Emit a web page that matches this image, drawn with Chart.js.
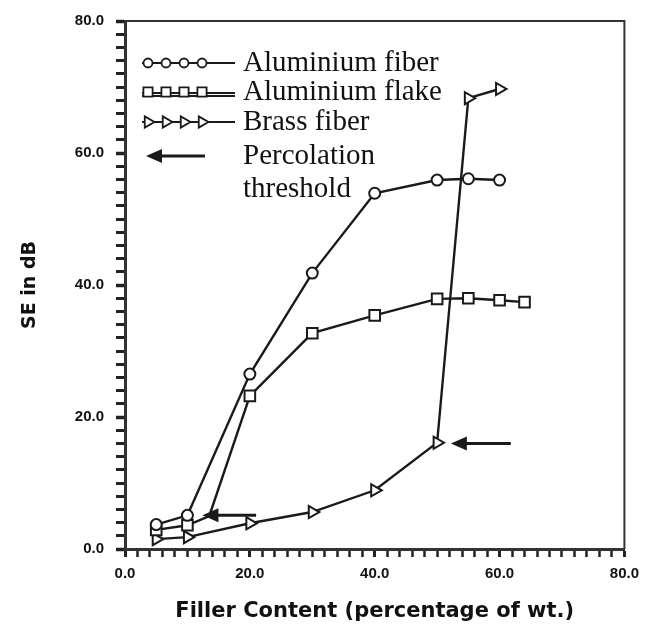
<!DOCTYPE html>
<html>
<head>
<meta charset="utf-8">
<script src="https://cdn.jsdelivr.net/npm/chart.js@4.4.1/dist/chart.umd.min.js"></script>
<style>
  html, body { margin: 0; padding: 0; background: #fff; }
  #wrap { width: 647px; height: 639px; }
</style>
</head>
<body>
<div id="wrap"><canvas id="grafico" width="647" height="639"></canvas></div>
<script>
// valores
var xAlFiber = [5, 10, 20, 30, 40, 50, 55, 60];
var seAlFiber = [3.7, 5.1, 26.5, 41.8, 53.9, 55.9, 56.1, 55.9];

var xAlFlake = [5, 10, 13.5, 20, 30, 40, 50, 55, 60, 64];
var seAlFlake = [2.9, 3.6, 5.0, 23.2, 32.7, 35.4, 37.9, 38.0, 37.7, 37.4];

var xBrass = [5, 10, 20, 30, 40, 50, 55, 60];
var seBrass = [1.5, 1.8, 3.9, 5.6, 8.9, 16.1, 68.3, 69.7];

// setas de "percolation threshold"
var arrowTipX = [12.4, 52.2];
var arrowTailX = [21, 61.8];
var arrowY = [5.1, 16.0];

var tickLabelsX = ["0.0", "20.0", "40.0", "60.0", "80.0"];
var tickLabelsY = ["0.0", "20.0", "40.0", "60.0", "80.0"];

var nomes = ["Aluminium fiber", "Aluminium flake", "Brass fiber"];
var nomeSeta = ["Percolation", "threshold"];

function pontos(xs, ys) {
    return xs.map(function (x, i) { return { x: x, y: ys[i] }; });
}

function seta(ctx, xTip, xTail, y) {
    ctx.save();
    ctx.fillStyle = "#1a1a1a";
    ctx.strokeStyle = "#1a1a1a";
    ctx.lineWidth = 3;
    ctx.beginPath();
    ctx.moveTo(xTip + 10, y);
    ctx.lineTo(xTail, y);
    ctx.stroke();
    ctx.beginPath();
    ctx.moveTo(xTip, y);
    ctx.lineTo(xTip + 16, y - 7);
    ctx.lineTo(xTip + 16, y + 7);
    ctx.closePath();
    ctx.fill();
    ctx.restore();
}

var pluginExtras = {
    id: "extras",
    beforeDraw: function (chart) {
        var ctx = chart.ctx;
        ctx.save();
        ctx.fillStyle = "#fff";
        ctx.fillRect(0, 0, chart.width, chart.height);
        ctx.restore();
    },
    afterDatasetsDraw: function (chart) {
        var ctx = chart.ctx;
        var xs = chart.scales.x, ys = chart.scales.y;
        var a = chart.chartArea;
        // moldura de cima e da direita
        ctx.save();
        ctx.strokeStyle = "#333";
        ctx.lineWidth = 2;
        ctx.beginPath();
        ctx.moveTo(a.left, a.top);
        ctx.lineTo(a.right, a.top);
        ctx.lineTo(a.right, a.bottom);
        ctx.stroke();
        ctx.restore();

        for (var i = 0; i < arrowY.length; i++) {
            seta(ctx, xs.getPixelForValue(arrowTipX[i]), xs.getPixelForValue(arrowTailX[i]), ys.getPixelForValue(arrowY[i]));
        }

        // legenda
        var estilos = ["circle", "rect", "triangle"];
        var raios = [4.5, 6.5, 6.5];
        var linhasY = [63, 92, 122];
        ctx.save();
        ctx.font = "29px 'Liberation Serif'";
        ctx.textBaseline = "middle";
        for (var k = 0; k < 3; k++) {
            var y = linhasY[k];
            ctx.strokeStyle = "#1a1a1a";
            ctx.lineWidth = 1.8;
            if (k === 1) {
                ctx.beginPath();
                ctx.moveTo(142, y + 1); ctx.lineTo(235, y + 1);
                ctx.moveTo(142, y + 4); ctx.lineTo(235, y + 4);
                ctx.stroke();
            } else {
                ctx.beginPath();
                ctx.moveTo(142, y); ctx.lineTo(235, y);
                ctx.stroke();
            }
            for (var m = 0; m < 4; m++) {
                ctx.fillStyle = "#fff";
                ctx.strokeStyle = "#1a1a1a";
                ctx.lineWidth = 1.8;
                Chart.helpers.drawPoint(ctx, {
                    pointStyle: estilos[k], radius: raios[k], borderWidth: 1.8,
                    rotation: k === 2 ? 90 : 0
                }, 148 + m * 18, y);
            }
            ctx.fillStyle = "#111";
            ctx.fillText(nomes[k], 243, y);
        }
        seta(ctx, 146, 205, 156);
        ctx.fillStyle = "#111";
        ctx.fillText(nomeSeta[0], 243, 156);
        ctx.fillText(nomeSeta[1], 243, 189);
        ctx.restore();
    }
};

function estiloSerie(label, xs, ys, estilo, raios) {
    return {
        label: label,
        data: pontos(xs, ys),
        borderColor: "#1a1a1a",
        borderWidth: 2.4,
        backgroundColor: "#fff",
        pointStyle: estilo,
        pointRotation: estilo === "triangle" ? 90 : 0,
        pointRadius: raios,
        pointBorderWidth: 2,
        pointBackgroundColor: "#fff",
        pointBorderColor: "#1a1a1a",
        tension: 0
    };
}

var raiosFlake = xAlFlake.map(function (x) { return x === 13.5 ? 0 : 7.5; });

var ctx = document.getElementById("grafico").getContext("2d");
var grafico = new Chart(ctx, {
    type: "line",
    data: {
        datasets: [
            estiloSerie(nomes[0], xAlFiber, seAlFiber, "circle", 5.5),
            estiloSerie(nomes[1], xAlFlake, seAlFlake, "rect", raiosFlake),
            estiloSerie(nomes[2], xBrass, seBrass, "triangle", 7)
        ]
    },
    options: {
        responsive: false,
        animation: false,
        devicePixelRatio: 1,
        layout: { padding: { top: 21, right: 19, left: 0, bottom: 0 } },
        plugins: {
            legend: { display: false },
            tooltip: { enabled: false }
        },
        scales: {
            x: {
                type: "linear",
                min: 0,
                max: 80,
                afterFit: function (s) { s.height = 90; },
                ticks: {
                    stepSize: 2,
                    autoSkip: false,
                    maxRotation: 0,
                    padding: 8,
                    color: "#111",
                    font: { family: "'Liberation Sans'", size: 15, weight: "bold" },
                    callback: function (v) { return v % 20 === 0 ? tickLabelsX[v / 20] : ""; }
                },
                grid: {
                    drawOnChartArea: false,
                    tickLength: 8,
                    tickColor: "#222",
                    tickWidth: function (c) { return c.tick && c.tick.value % 20 === 0 ? 3 : 2.5; }
                },
                border: { display: true, color: "#333", width: 3 },
                title: {
                    display: true,
                    text: "Filler Content (percentage of wt.)",
                    color: "#111",
                    font: { family: "'DejaVu Sans'", size: 21, weight: "bold" },
                    padding: { top: 0, bottom: 15 }
                }
            },
            y: {
                type: "linear",
                min: 0,
                max: 80,
                afterFit: function (s) { s.width = 125; },
                ticks: {
                    stepSize: 2,
                    autoSkip: false,
                    padding: 12,
                    color: "#111",
                    font: { family: "'Liberation Sans'", size: 15, weight: "bold" },
                    callback: function (v) { return v % 20 === 0 ? tickLabelsY[v / 20] : ""; }
                },
                grid: {
                    drawOnChartArea: false,
                    tickLength: 9,
                    tickColor: "#222",
                    tickWidth: function (c) { return c.tick && c.tick.value % 20 === 0 ? 3.5 : 3; }
                },
                border: { display: true, color: "#333", width: 3 },
                title: {
                    display: true,
                    text: "SE in dB",
                    color: "#111",
                    font: { family: "'DejaVu Sans'", size: 19, weight: "bold" },
                    padding: { top: 19, bottom: 0 }
                }
            }
        }
    },
    plugins: [pluginExtras]
});
</script>
</body>
</html>
